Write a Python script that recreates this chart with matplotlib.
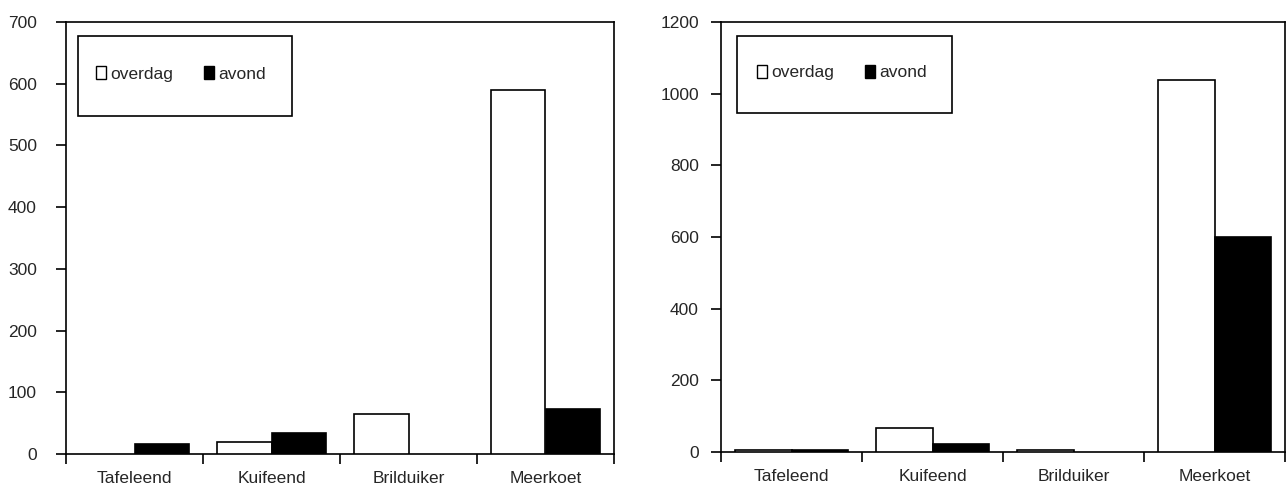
import matplotlib
matplotlib.use("Agg")
import matplotlib.pyplot as plt
from matplotlib.patches import Rectangle, Patch
import numpy as np

plt.rcParams['font.family'] = ['Liberation Sans', 'DejaVu Sans']

categories = ["Tafeleend", "Kuifeend", "Brilduiker", "Meerkoet"]
series_names = ["overdag", "avond"]

left_overdag = [0, 19, 65, 590]
left_avond = [16, 34, 0, 73]
left_yticks = [0, 100, 200, 300, 400, 500, 600, 700]

right_overdag = [6, 66, 5, 1039]
right_avond = [6, 21, 0, 600]
right_yticks = [0, 200, 400, 600, 800, 1000, 1200]

FS = 12.5
TXT = '#262626'

fig = plt.figure(figsize=(12.86, 4.90), dpi=100)
ax1 = fig.add_axes([66/1286, 1-454/490, (614-66)/1286, (454-22)/490])
ax2 = fig.add_axes([721/1286, 1-452/490, (1285-721)/1286, (452-22)/490])

def draw(ax, over, avond, yticks, legbox, leg_off, ypad):
    x = np.arange(len(categories))
    w = 0.4
    ec_o = ['black' if v > 0 else 'none' for v in over]
    ec_a = ['black' if v > 0 else 'none' for v in avond]
    ax.bar(x - w/2, over, w, color='white', edgecolor=ec_o, linewidth=1.2, zorder=3)
    ax.bar(x + w/2, avond, w, color='black', edgecolor=ec_a, linewidth=1.2, zorder=3)
    ax.set_xlim(-0.5, len(categories) - 0.5)
    ax.set_ylim(yticks[0], yticks[-1])
    ax.set_yticks(yticks)
    ax.set_yticklabels([str(v) for v in yticks])
    ax.set_xticks(np.arange(-0.5, len(categories), 1.0))
    ax.set_xticklabels([])
    ax.set_xticks(x, minor=True)
    ax.set_xticklabels(categories, minor=True)
    ax.tick_params(axis='x', which='major', direction='out', length=7, width=1.2)
    ax.tick_params(axis='x', which='minor', length=0, pad=12, labelsize=FS, labelcolor=TXT)
    ax.tick_params(axis='y', direction='out', length=7, width=1.2, pad=ypad,
                   labelsize=FS, labelcolor=TXT)
    for s in ax.spines.values():
        s.set_linewidth(1.2)
    # legend box
    x0, y0, w0, h0 = legbox
    ax.add_patch(Rectangle((x0, y0), w0, h0, transform=ax.transAxes,
                           facecolor='white', edgecolor='black', linewidth=1.2, zorder=5))
    handles = [Patch(facecolor='white', edgecolor='black', linewidth=1.0),
               Patch(facecolor='black', edgecolor='black', linewidth=1.0)]
    leg = ax.legend(handles, series_names, loc='center left',
                    bbox_to_anchor=(x0 + leg_off, y0 + 0.005, w0, h0), bbox_transform=ax.transAxes,
                    ncol=2, frameon=False, fontsize=FS, handlelength=0.6,
                    handleheight=0.8, handletextpad=0.2, columnspacing=1.8,
                    borderpad=0, borderaxespad=0)
    for t in leg.get_texts():
        t.set_color(TXT)
    leg.set_zorder(6)

draw(ax1, left_overdag, left_avond, left_yticks,
     ((78-66)/548, (454-116)/432, 214/548, 80/432), 18/548, 14)
draw(ax2, right_overdag, right_avond, right_yticks,
     ((737-721)/564, (452-113)/430, 215/564, 77/430), 20/564, 9)

fig.savefig("out.png", dpi=100)
